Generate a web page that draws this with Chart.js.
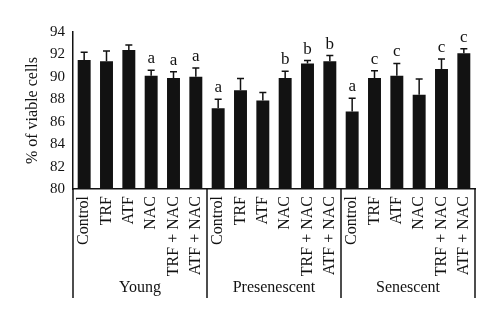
<!DOCTYPE html>
<html>
<head>
<meta charset="utf-8">
<script src="https://cdn.jsdelivr.net/npm/chart.js@4"></script>
<style>
  html, body { margin: 0; padding: 0; background: #fff; }
  #wrap { width: 500px; height: 323px; }
</style>
</head>
<body>
<div id="wrap"><canvas id="viability"></canvas></div>
<script>
// cell viability per treatment, three passages of cells
const groups = ['Young', 'Presenescent', 'Senescent'];
const treatments = ['Control', 'TRF', 'ATF', 'NAC', 'TRF + NAC', 'ATF + NAC'];
const viable = [91.5, 91.4, 92.4, 90.1, 89.9, 90.0,
                87.2, 88.8, 87.9, 89.9, 91.2, 91.4,
                86.9, 89.9, 90.1, 88.4, 90.7, 92.1];
const sem = [0.7, 0.9, 0.45, 0.5, 0.55, 0.8,
             0.8, 1.05, 0.7, 0.6, 0.25, 0.5,
             1.2, 0.65, 1.1, 1.4, 0.9, 0.4];
const letters = ['', '', '', 'a', 'a', 'a',
                 'a', '', '', 'b', 'b', 'b',
                 'a', 'c', 'c', '', 'c', 'c'];
const yTicks = [80, 82, 84, 86, 88, 90, 92, 94];

const labels = [];
groups.forEach(() => treatments.forEach(t => labels.push(t)));

const SERIF = "'Liberation Serif', 'DejaVu Serif', serif";
const INK = '#121212';

// error bars (upper half), significance letters, group brackets
const annotate = {
  id: 'annotate',
  afterDatasetsDraw(chart) {
    const {ctx, scales: {x, y}} = chart;
    const meta = chart.getDatasetMeta(0);
    ctx.save();
    ctx.strokeStyle = INK;
    ctx.fillStyle = INK;
    ctx.lineWidth = 1.5;
    meta.data.forEach((bar, i) => {
      const top = y.getPixelForValue(viable[i] + sem[i]);
      ctx.beginPath();
      ctx.moveTo(bar.x, bar.y);
      ctx.lineTo(bar.x, top);
      ctx.moveTo(bar.x - 3.5, top);
      ctx.lineTo(bar.x + 3.5, top);
      ctx.stroke();
      if (letters[i]) {
        ctx.font = '17px ' + SERIF;
        ctx.textAlign = 'center';
        ctx.textBaseline = 'alphabetic';
        ctx.fillText(letters[i], bar.x, top - 7);
      }
    });
    ctx.restore();
  },
  afterDraw(chart) {
    const {ctx, chartArea, scales: {x}} = chart;
    const n = treatments.length;
    const edges = [chartArea.left];
    for (let g = 1; g < groups.length; g++) {
      edges.push((x.getPixelForValue(g * n - 1) + x.getPixelForValue(g * n)) / 2);
    }
    edges.push(chartArea.right);
    ctx.save();
    ctx.strokeStyle = INK;
    ctx.lineWidth = 1.5;
    edges.forEach(ex => {
      ctx.beginPath();
      ctx.moveTo(ex, chartArea.bottom);
      ctx.lineTo(ex, chartArea.bottom + 109);
      ctx.stroke();
    });
    ctx.fillStyle = INK;
    ctx.font = '16px ' + SERIF;
    ctx.textAlign = 'center';
    ctx.textBaseline = 'middle';
    groups.forEach((g, i) => {
      ctx.fillText(g, (edges[i] + edges[i + 1]) / 2, chartArea.bottom + 99);
    });
    ctx.restore();
  }
};

new Chart(document.getElementById('viability'), {
  type: 'bar',
  data: {
    labels: labels,
    datasets: [{
      data: viable,
      backgroundColor: INK,
      borderWidth: 0,
      barPercentage: 0.58,
      categoryPercentage: 1.0
    }]
  },
  options: {
    responsive: true,
    maintainAspectRatio: false,
    animation: false,
    layout: { padding: { top: 32, right: 25, bottom: 0, left: 0 } },
    plugins: {
      legend: { display: false },
      tooltip: { enabled: false }
    },
    scales: {
      x: {
        grid: { display: false, drawTicks: false },
        border: { display: true, color: INK, width: 1.5 },
        ticks: {
          autoSkip: false,
          maxRotation: 90,
          minRotation: 90,
          padding: 7,
          color: INK,
          font: { family: SERIF, size: 16 }
        },
        afterFit(scale) { scale.height = 134; }
      },
      y: {
        min: 80,
        max: 94,
        afterBuildTicks(scale) { scale.ticks = yTicks.map(v => ({ value: v })); },
        grid: { display: false, drawTicks: false },
        border: { display: true, color: INK, width: 1.5 },
        ticks: {
          padding: 8,
          color: INK,
          font: { family: SERIF, size: 15 }
        },
        title: {
          display: true,
          text: '% of viable cells',
          color: INK,
          padding: { top: 23, bottom: 0 },
          font: { family: SERIF, size: 16 }
        },
        afterFit(scale) { scale.width = 73; }
      }
    }
  },
  plugins: [annotate]
});
</script>
</body>
</html>
